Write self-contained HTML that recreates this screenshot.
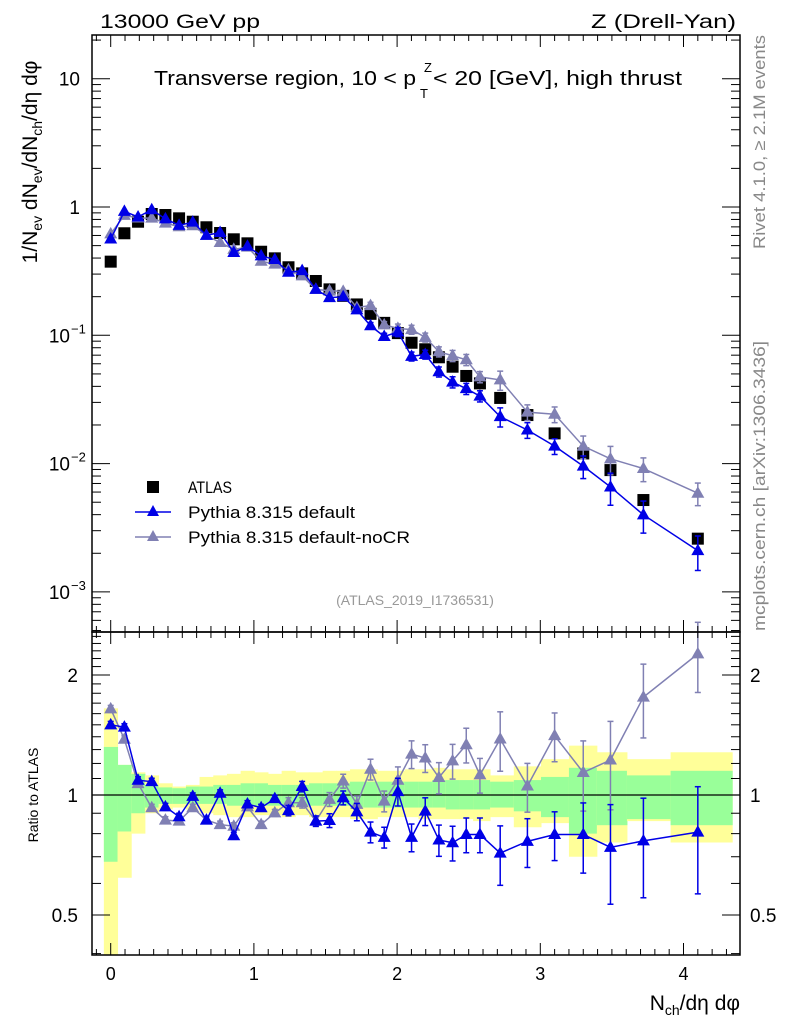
<!DOCTYPE html>
<html><head><meta charset="utf-8"><style>
html,body{margin:0;padding:0;background:#fff;}
svg{display:block;font-family:"Liberation Sans",Arial,sans-serif;}
</style></head><body>
<svg id="chart" width="786" height="1024" viewBox="0 0 786 1024" xmlns="http://www.w3.org/2000/svg">
<g id="bands"></g>
<g id="marks"></g>
<g id="axes"></g>
<text x="100" y="28" font-size="19" textLength="160" lengthAdjust="spacingAndGlyphs">13000 GeV pp</text>
<text x="736" y="28" font-size="19" text-anchor="end" textLength="145" lengthAdjust="spacingAndGlyphs">Z (Drell-Yan)</text>
<g>
<text x="154" y="85" font-size="20" textLength="262" lengthAdjust="spacingAndGlyphs">Transverse region, 10 &lt; p</text>
<text x="424" y="72" font-size="13">Z</text>
<text x="420" y="98" font-size="13">T</text>
<text x="433" y="85" font-size="20" textLength="249" lengthAdjust="spacingAndGlyphs">&lt; 20 [GeV], high thrust</text>
</g>
<text transform="translate(37,162) rotate(-90)" font-size="21" text-anchor="middle">1/N<tspan font-size="14" dy="5">ev</tspan><tspan dy="-5"> dN</tspan><tspan font-size="14" dy="5">ev</tspan><tspan dy="-5">/dN</tspan><tspan font-size="14" dy="5">ch</tspan><tspan dy="-5">/dη dφ</tspan></text>
<text transform="translate(38,795) rotate(-90)" font-size="14" text-anchor="middle">Ratio to ATLAS</text>
<text x="740" y="1010" font-size="21" text-anchor="end">N<tspan font-size="14" dy="5">ch</tspan><tspan dy="-5">/dη dφ</tspan></text>
<text transform="translate(765,142) rotate(-90)" font-size="17" fill="#888" text-anchor="middle" textLength="214" lengthAdjust="spacingAndGlyphs">Rivet 4.1.0, ≥ 2.1M events</text>
<text transform="translate(765,486) rotate(-90)" font-size="17" fill="#888" text-anchor="middle" textLength="290" lengthAdjust="spacingAndGlyphs">mcplots.cern.ch [arXiv:1306.3436]</text>
<text x="415" y="605" font-size="14" fill="#999" text-anchor="middle">(ATLAS_2019_I1736531)</text>
<g>
<g><rect x="147" y="481" width="12" height="12" fill="#000"/><text x="188" y="493" font-size="17" textLength="44" lengthAdjust="spacingAndGlyphs">ATLAS</text></g>
<g><line x1="135" y1="512" x2="171" y2="512" stroke="#0000e6" stroke-width="1.5"/><path d="M153,505 L159,516 L147,516 Z" fill="#0000e6"/><text x="188" y="518" font-size="17" textLength="167" lengthAdjust="spacingAndGlyphs">Pythia 8.315 default</text></g>
<g><line x1="135" y1="537" x2="171" y2="537" stroke="#8080b3" stroke-width="1.5"/><path d="M153,530 L159,541 L147,541 Z" fill="#8080b3"/><text x="188" y="543" font-size="17" textLength="222" lengthAdjust="spacingAndGlyphs">Pythia 8.315 default-noCR</text></g>
</g>
</svg>
<script>
const xVals=[0,0.0955,0.191,0.2865,0.382,0.4775,0.573,0.6685,0.764,0.8595,0.955,1.0505,1.146,1.2415,1.337,1.4325,1.528,1.6235,1.719,1.8145,1.91,2.0055,2.101,2.1965,2.292,2.3875,2.483,2.5785,2.72,2.91,3.10,3.30,3.49,3.72,4.10];
const atlasVals=[0.375,0.624,0.768,0.882,0.866,0.816,0.768,0.695,0.627,0.56,0.521,0.448,0.398,0.339,0.304,0.265,0.228,0.203,0.174,0.147,0.125,0.104,0.0875,0.0778,0.0674,0.0569,0.0482,0.0422,0.0325,0.0239,0.0172,0.0120,0.0089,0.0052,0.0026];
const ratioDefault=[1.50,1.48,1.089,1.08,0.934,0.882,0.992,0.865,1.01,0.79,0.949,0.929,0.979,0.914,1.05,0.86,0.863,0.984,0.907,0.807,0.783,1.02,0.783,0.911,0.771,0.759,0.796,0.796,0.715,0.765,0.796,0.796,0.739,0.767,0.807];
const ratioNoCR=[1.645,1.38,1.068,0.929,0.865,0.86,0.929,0.865,0.843,0.835,0.934,0.843,0.902,0.956,0.956,0.86,0.975,1.084,0.947,1.16,0.965,1.089,1.266,1.238,1.106,1.218,1.337,1.123,1.382,1.053,1.409,1.139,1.224,1.76,2.26];
const errDefault=[0.02,0.02,0.02,0.02,0.02,0.02,0.02,0.02,0.02,0.02,0.02,0.02,0.02,0.03,0.03,0.03,0.04,0.04,0.05,0.06,0.06,0.08,0.08,0.08,0.09,0.1,0.1,0.1,0.17,0.14,0.14,0.2,0.28,0.28,0.3];
const errNoCR=[0.02,0.02,0.02,0.02,0.02,0.02,0.02,0.02,0.02,0.02,0.02,0.02,0.02,0.03,0.03,0.03,0.04,0.04,0.05,0.06,0.06,0.08,0.08,0.08,0.09,0.1,0.1,0.1,0.17,0.14,0.14,0.2,0.25,0.21,0.2];
const greenUp=[1.32,1.19,1.13,1.06,1.045,1.04,1.05,1.05,1.06,1.06,1.07,1.07,1.06,1.06,1.06,1.07,1.07,1.07,1.08,1.08,1.08,1.08,1.08,1.08,1.09,1.09,1.09,1.09,1.08,1.09,1.11,1.17,1.15,1.12,1.15];
const greenDn=[0.68,0.81,0.90,0.93,0.95,0.95,0.95,0.95,0.95,0.94,0.94,0.94,0.94,0.94,0.94,0.94,0.94,0.94,0.93,0.93,0.93,0.93,0.93,0.93,0.93,0.92,0.92,0.92,0.93,0.91,0.88,0.80,0.84,0.87,0.84];
const yellowUp=[1.65,1.19,1.14,1.12,1.07,1.05,1.06,1.11,1.12,1.13,1.15,1.14,1.13,1.15,1.14,1.14,1.15,1.15,1.16,1.16,1.15,1.15,1.16,1.16,1.17,1.16,1.16,1.16,1.12,1.18,1.23,1.33,1.28,1.23,1.28];
const yellowDn=[0.3,0.62,0.80,0.90,0.92,0.93,0.92,0.90,0.89,0.88,0.88,0.89,0.89,0.88,0.89,0.88,0.88,0.88,0.87,0.87,0.88,0.88,0.88,0.87,0.87,0.87,0.87,0.86,0.88,0.83,0.85,0.70,0.76,0.86,0.76];
const xTicks=[0,1,2,3,4];
const ratioTicks=[2,1,0.5];

const NS='http://www.w3.org/2000/svg';
const L=92,R=740,T=35,MB=632,RB=955;
const X=v=>110.7+143.2*v;
const Y=v=>207-128.3*Math.log10(v);
const YR=r=>Math.max(T,Math.min(RB,795-173.1*Math.log(r)));
function mk(tag,attrs,parent){const e=document.createElementNS(NS,tag);for(const k in attrs)e.setAttribute(k,attrs[k]);parent.appendChild(e);return e;}
const bands=document.getElementById('bands'),marks=document.getElementById('marks'),axes=document.getElementById('axes');

const edges=[];
for(let i=0;i<=xVals.length;i++){
  if(i===0)edges.push(xVals[0]-(xVals[1]-xVals[0])/2);
  else if(i===xVals.length)edges.push(4.34);
  else edges.push((xVals[i-1]+xVals[i])/2);
}
for(let i=0;i<xVals.length;i++){
  const x0=X(edges[i]),x1=X(edges[i+1]);
  const yb=mk('rect',{x:x0,y:YR(yellowUp[i]),width:x1-x0+0.5,height:YR(yellowDn[i])-YR(yellowUp[i]),fill:'#ffff99'},bands);
  
  
  const gb=mk('rect',{x:x0,y:YR(greenUp[i]),width:x1-x0+0.5,height:YR(greenDn[i])-YR(greenUp[i]),fill:'#99ff99'},bands);
  
  
}
mk('line',{x1:L,x2:R,y1:YR(1),y2:YR(1),stroke:'#000','stroke-width':1.2},bands);

function tri(g,x,y,c){const p=mk('path',{d:`M${x},${y-7} L${x+6.5},${y+4.5} L${x-6.5},${y+4.5} Z`,fill:c},g);return p;}
function series(ratio,err,color,name){
  const g=mk('g',{},marks);
  
  
  let dm='',dr='';
  xVals.forEach((x,i)=>{
    const v=atlasVals[i]*ratio[i];
    dm+=(i?'L':'M')+X(x)+','+Y(v);
    dr+=(i?'L':'M')+X(x)+','+YR(ratio[i]);
  });
  mk('path',{d:dm,fill:'none',stroke:color,'stroke-width':1.5},g);
  mk('path',{d:dr,fill:'none',stroke:color,'stroke-width':1.5},g);
  xVals.forEach((x,i)=>{
    const v=atlasVals[i]*ratio[i],e=err[i],px=X(x);
    [[Y(v*(1+e)),Y(v*(1-e)),Y(v)],[YR(ratio[i]*(1+e)),YR(ratio[i]*(1-e)),YR(ratio[i])]].forEach(([a,b,c])=>{
      if(b-a>6){mk('line',{x1:px,x2:px,y1:a,y2:b,stroke:color,'stroke-width':1.5},g);
      mk('line',{x1:px-3,x2:px+3,y1:a,y2:a,stroke:color,'stroke-width':1.5},g);
      mk('line',{x1:px-3,x2:px+3,y1:b,y2:b,stroke:color,'stroke-width':1.5},g);}
      const t=tri(g,px,c,color);
      
      
    });
  });
}
const ga=mk('g',{},marks);


xVals.forEach((x,i)=>{
  const s=mk('rect',{x:X(x)-6,y:Y(atlasVals[i])-6,width:12,height:12,fill:'#000'},ga);
  
  
});
series(ratioNoCR,errNoCR,'#8080b3','pythia-default-nocr-series');
series(ratioDefault,errDefault,'#0000e6','pythia-default-series');

mk('rect',{x:L,y:T,width:R-L,height:MB-T,fill:'none',stroke:'#000','stroke-width':1.5},axes);
mk('rect',{x:L,y:MB,width:R-L,height:RB-MB,fill:'none',stroke:'#000','stroke-width':1.5},axes);
for(let k=-1;k<=44;k++){
  const v=k/10,px=X(v);if(px<L||px>R)continue;
  const len=(k%10===0)?12:6;
  [[T,1],[MB,-1],[MB,1],[RB,-1]].forEach(([y0,d])=>mk('line',{x1:px,x2:px,y1:y0,y2:y0+d*len,stroke:'#000','stroke-width':1},axes));
}
xTicks.forEach(v=>{const t=mk('text',{x:X(v),y:980,'font-size':18,'text-anchor':'middle'},axes);t.textContent=v;

});
for(let dec=-4;dec<=1;dec++){
  for(let m=1;m<=9;m++){
    const v=m*Math.pow(10,dec),py=Y(v);if(py<T||py>MB)continue;
    const len=m===1?18:9;
    mk('line',{x1:L,x2:L+len,y1:py,y2:py,stroke:'#000','stroke-width':1},axes);
    mk('line',{x1:R,x2:R-len,y1:py,y2:py,stroke:'#000','stroke-width':1},axes);
  }
}
const ylabs=[[1,'10',''],[0,'1',''],[-1,'10','−1'],[-2,'10','−2'],[-3,'10','−3']];
ylabs.forEach(([e,b,s])=>{
  const py=Y(Math.pow(10,e));
  const t=mk('text',{x:s?70:80,y:py+7,'font-size':19,'text-anchor':'end'},axes);t.textContent=b;
  
  
  if(s){const u=mk('text',{x:71,y:py-2,'font-size':13},axes);u.textContent=s;}
});
for(let k=4;k<=25;k++){
  const r=k/10;const py=YR(r);if(py<=MB||py>=RB)continue;
  const major=(r===0.5||r===1||r===2);const len=major?18:9;
  mk('line',{x1:L,x2:L+len,y1:py,y2:py,stroke:'#000','stroke-width':1},axes);
  mk('line',{x1:R,x2:R-len,y1:py,y2:py,stroke:'#000','stroke-width':1},axes);
}
ratioTicks.forEach(r=>{
  const py=YR(r)+7;
  const a=mk('text',{x:78,y:py,'font-size':19,'text-anchor':'end'},axes);a.textContent=r;
  
  
  const b=mk('text',{x:750,y:py,'font-size':19},axes);b.textContent=r;
  
  
});
</script>
</body></html>
